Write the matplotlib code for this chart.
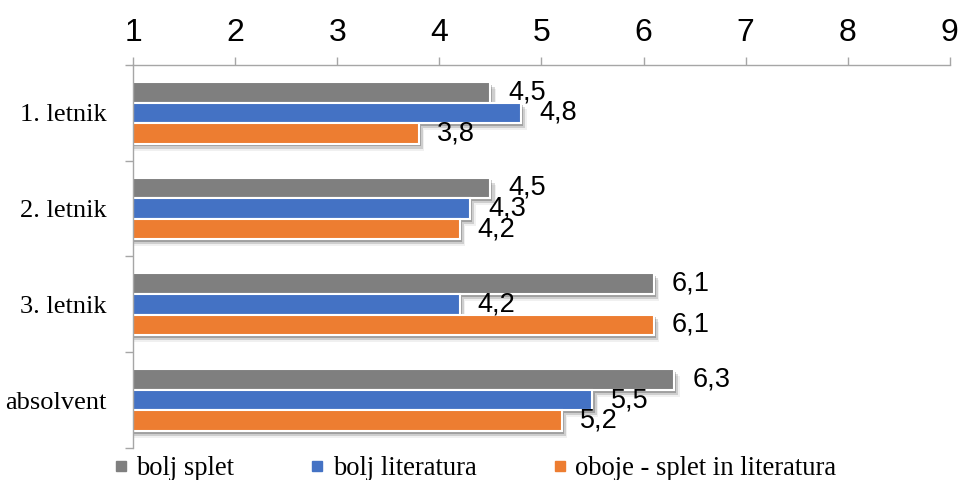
import matplotlib.pyplot as plt
import matplotlib.patheffects as pe
from matplotlib.lines import Line2D
import numpy as np

categories = ["1. letnik", "2. letnik", "3. letnik", "absolvent"]
series_names = ["bolj splet", "bolj literatura", "oboje - splet in literatura"]
bolj_splet = [4.5, 4.5, 6.1, 6.3]
bolj_literatura = [4.8, 4.3, 4.2, 5.5]
oboje = [3.8, 4.2, 6.1, 5.2]
colors = ["#7F7F7F", "#4472C4", "#ED7D31"]
x_ticks = [1, 2, 3, 4, 5, 6, 7, 8, 9]

fig = plt.figure(figsize=(9.61, 4.80), dpi=100)
ax = fig.add_axes([0.1384, 0.0667, 0.850, 0.798])

y = np.arange(len(categories))
h = 0.215
# soft drop shadow under each bar
shadow = [pe.SimplePatchShadow(offset=(1.5, -2), shadow_rgbFace="k", alpha=0.22),
          pe.SimplePatchShadow(offset=(3, -3.5), shadow_rgbFace="k", alpha=0.14),
          pe.SimplePatchShadow(offset=(4, -5), shadow_rgbFace="k", alpha=0.06),
          pe.Normal()]

for i, (vals, col) in enumerate(zip([bolj_splet, bolj_literatura, oboje], colors)):
    pos = y + (i - 1) * h
    bars = ax.barh(pos, vals, height=h, color=col, edgecolor="white",
                   linewidth=1.5, zorder=2 + i * 0.1)
    for b in bars:
        b.set_path_effects(shadow)
    for p, v in zip(pos, vals):
        ax.annotate(f"{v:.1f}".replace(".", ","), xy=(v, p), xytext=(18, 0),
                    textcoords="offset pixels", va="center", ha="left",
                    fontsize=19.5, family="Liberation Sans", zorder=5)

ax.set_xlim(1, 9)
ax.set_ylim(len(categories) - 0.5, -0.5)
ax.xaxis.tick_top()
ax.set_xticks(x_ticks)
ax.set_xticklabels([str(t) for t in x_ticks], fontsize=23, family="Liberation Sans")
ax.tick_params(axis="x", direction="out", length=6, width=1, color="#A6A6A6", pad=6)

ax.set_yticks(y)
ax.set_yticklabels(categories, fontsize=19, family="Liberation Serif")
ax.tick_params(axis="y", which="major", length=0, pad=19)
ax.set_yticks(np.arange(len(categories) + 1) - 0.5, minor=True)
ax.tick_params(axis="y", which="minor", direction="out", length=6, width=1, color="#A6A6A6")

for s in ["right", "bottom"]:
    ax.spines[s].set_visible(False)
for s in ["top", "left"]:
    ax.spines[s].set_color("#A6A6A6")
    ax.spines[s].set_linewidth(1)

handles = [Line2D([], [], marker="s", linestyle="none", markersize=7.5,
                  markerfacecolor=c, markeredgecolor=c) for c in colors]
fig.legend(handles, series_names, loc="center left", bbox_to_anchor=(0.118, 0.024),
           ncol=3, frameon=False, handlelength=0.55, handletextpad=0.3,
           columnspacing=2.85, borderpad=0, borderaxespad=0,
           prop={"family": "Liberation Serif", "size": 19.2})

fig.savefig("out.png", dpi=100)
